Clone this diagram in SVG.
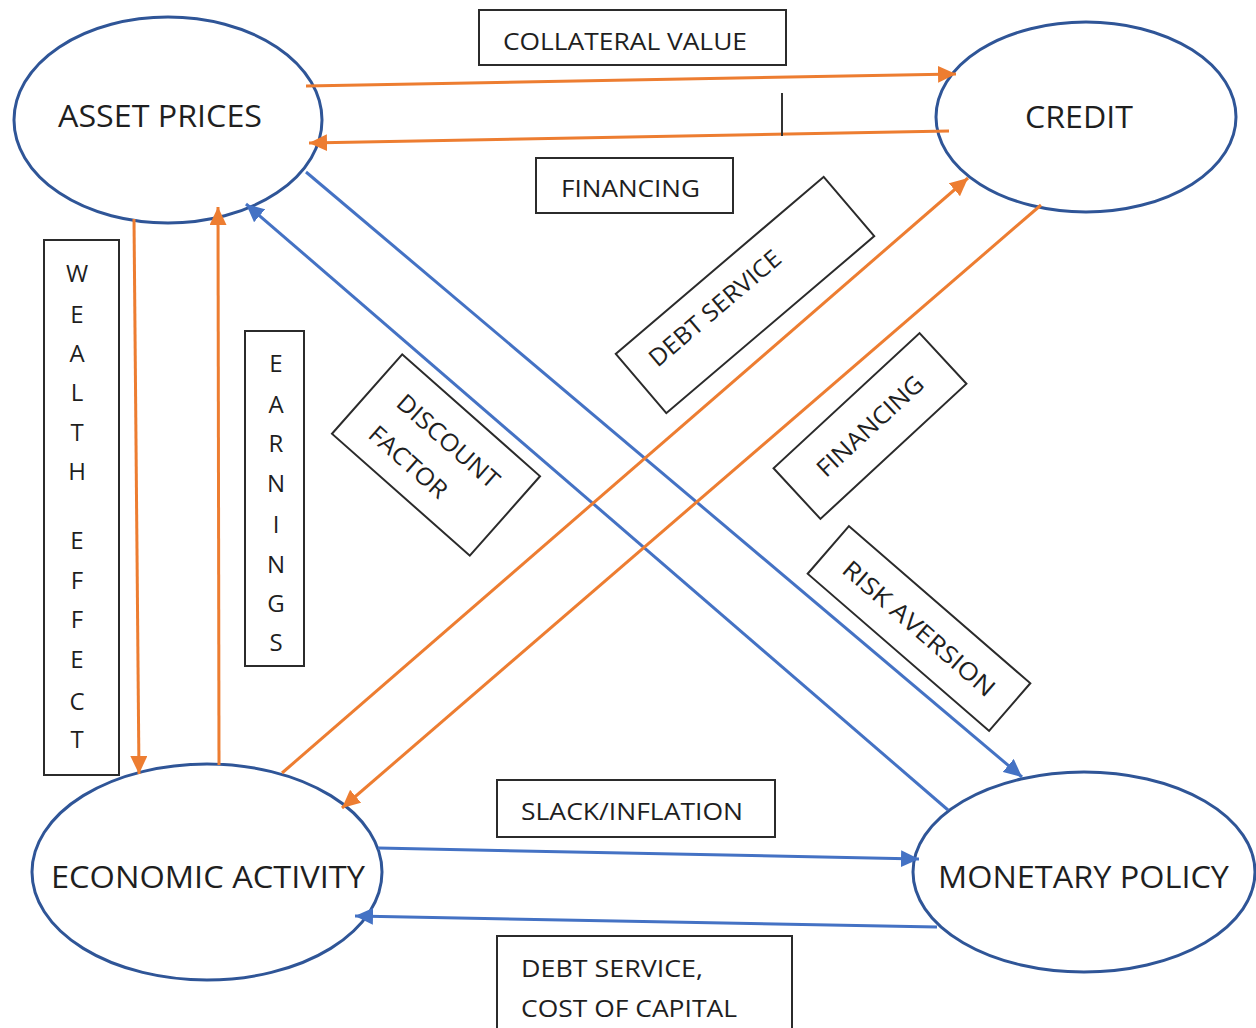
<svg xmlns="http://www.w3.org/2000/svg" width="1256" height="1028" viewBox="0 0 1256 1028">
  <defs>
    <style>
      .node ellipse { fill: #ffffff; stroke: #2F5597; stroke-width: 3; }
      .node text { font-family: "Open Sans", "Liberation Sans", sans-serif; font-size: 31px; fill: #1f1f1f; }
      .lbl rect { fill: none; stroke: #2b2b2b; stroke-width: 2; }
      .lbl text { font-family: "Open Sans", "Liberation Sans", sans-serif; font-size: 24px; fill: #1f1f1f; }
      .lbl .v { text-anchor: middle; }
      .orange { stroke: #ED7D31; stroke-width: 3; fill: none; marker-end: url(#arrOrange); }
      .blue { stroke: #4472C4; stroke-width: 3; fill: none; marker-end: url(#arrBlue); }
    </style>
    <marker id="arrOrange" markerUnits="userSpaceOnUse" markerWidth="19" markerHeight="17" refX="18" refY="8.5" orient="auto">
      <path d="M0,0 L18,8.5 L0,17 z" fill="#ED7D31"/>
    </marker>
    <marker id="arrBlue" markerUnits="userSpaceOnUse" markerWidth="19" markerHeight="17" refX="18" refY="8.5" orient="auto">
      <path d="M0,0 L18,8.5 L0,17 z" fill="#4472C4"/>
    </marker>
  </defs>

  <!-- nodes -->
  <g id="asset-prices" class="node">
    <ellipse cx="168" cy="120" rx="154" ry="103"/>
    <text x="58" y="127" textLength="204" lengthAdjust="spacingAndGlyphs">ASSET PRICES</text>
  </g>
  <g id="credit" class="node">
    <ellipse cx="1086" cy="117" rx="150" ry="95"/>
    <text x="1025" y="128" textLength="108" lengthAdjust="spacingAndGlyphs">CREDIT</text>
  </g>
  <g id="economic-activity" class="node">
    <ellipse cx="207" cy="872" rx="175" ry="108"/>
    <text x="51" y="888" textLength="314" lengthAdjust="spacingAndGlyphs">ECONOMIC ACTIVITY</text>
  </g>
  <g id="monetary-policy" class="node">
    <ellipse cx="1084" cy="872" rx="171" ry="100"/>
    <text x="938" y="888" textLength="291" lengthAdjust="spacingAndGlyphs">MONETARY POLICY</text>
  </g>

  <!-- connectors -->
  <g id="connectors">
    <path class="orange" d="M306,86 L956,74"/>
    <path class="orange" d="M949,131 L309,143"/>
    <path class="orange" d="M134,219 L139,774"/>
    <path class="orange" d="M219,765 L218,207"/>
    <path class="blue" d="M948,810 L246,204"/>
    <path class="blue" d="M306,172 L1022,777"/>
    <path class="orange" d="M282,773 L968,178"/>
    <path class="orange" d="M1041,205 L342,808"/>
    <path class="blue" d="M378,848 L919,859"/>
    <path class="blue" d="M937,927 L355,916"/>
    <line x1="782" y1="93" x2="782" y2="136" stroke="#333333" stroke-width="2"/>
  </g>

  <!-- edge labels -->
  <g id="lbl-collateral" class="lbl">
    <rect x="479" y="10" width="307" height="55"/>
    <text x="503" y="50" textLength="244" lengthAdjust="spacingAndGlyphs">COLLATERAL VALUE</text>
  </g>
  <g id="lbl-financing-top" class="lbl">
    <rect x="536" y="158" width="197" height="55"/>
    <text x="561" y="197" textLength="139" lengthAdjust="spacingAndGlyphs">FINANCING</text>
  </g>
  <g id="lbl-wealth" class="lbl">
    <rect x="44" y="240" width="75" height="535"/>
    <text class="v" x="77" y="282">W</text>
    <text class="v" x="77" y="323">E</text>
    <text class="v" x="77" y="362">A</text>
    <text class="v" x="77" y="401">L</text>
    <text class="v" x="77" y="441">T</text>
    <text class="v" x="77" y="480">H</text>
    <text class="v" x="77" y="549">E</text>
    <text class="v" x="77" y="589">F</text>
    <text class="v" x="77" y="628">F</text>
    <text class="v" x="77" y="668">E</text>
    <text class="v" x="77" y="710">C</text>
    <text class="v" x="77" y="748">T</text>
  </g>
  <g id="lbl-earnings" class="lbl">
    <rect x="245" y="331" width="59" height="335"/>
    <text class="v" x="276" y="372">E</text>
    <text class="v" x="276" y="413">A</text>
    <text class="v" x="276" y="452">R</text>
    <text class="v" x="276" y="492">N</text>
    <text class="v" x="276" y="533">I</text>
    <text class="v" x="276" y="573">N</text>
    <text class="v" x="276" y="612">G</text>
    <text class="v" x="276" y="651">S</text>
  </g>
  <g id="lbl-discount" class="lbl" transform="translate(436,455) rotate(41.5)">
    <rect x="-92" y="-53" width="184" height="106"/>
    <text x="-64" y="-10" textLength="128" lengthAdjust="spacingAndGlyphs">DISCOUNT</text>
    <text x="-64" y="32" textLength="96" lengthAdjust="spacingAndGlyphs">FACTOR</text>
  </g>
  <g id="lbl-debt-service" class="lbl" transform="translate(745,295) rotate(-40.4)">
    <rect x="-136.5" y="-39" width="273" height="78"/>
    <text x="-114" y="-1" textLength="165" lengthAdjust="spacingAndGlyphs">DEBT SERVICE</text>
  </g>
  <g id="lbl-financing-diag" class="lbl" transform="translate(870,426) rotate(-42.8)">
    <rect x="-99.5" y="-34.5" width="199" height="69"/>
    <text x="0" y="8.5" text-anchor="middle" textLength="136" lengthAdjust="spacingAndGlyphs">FINANCING</text>
  </g>
  <g id="lbl-risk" class="lbl" transform="translate(919,628.5) rotate(40.9)">
    <rect x="-120" y="-31.5" width="240" height="63"/>
    <text x="0" y="8.5" text-anchor="middle" textLength="193" lengthAdjust="spacingAndGlyphs">RISK AVERSION</text>
  </g>
  <g id="lbl-slack" class="lbl">
    <rect x="497" y="780" width="278" height="57"/>
    <text x="521" y="820" textLength="222" lengthAdjust="spacingAndGlyphs">SLACK/INFLATION</text>
  </g>
  <g id="lbl-debt-cost" class="lbl">
    <rect x="497" y="936" width="295" height="100"/>
    <text x="521" y="977" textLength="182" lengthAdjust="spacingAndGlyphs">DEBT SERVICE,</text>
    <text x="521" y="1017" textLength="216" lengthAdjust="spacingAndGlyphs">COST OF CAPITAL</text>
  </g>
</svg>
